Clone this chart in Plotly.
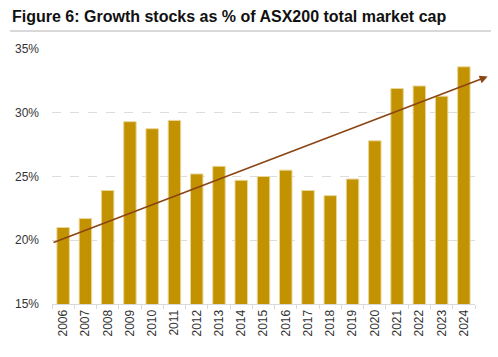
import plotly.graph_objects as go

years = [str(y) for y in range(2006, 2025)]
growth_share = [21.0, 21.7, 23.9, 29.3, 28.75, 29.4, 25.2, 25.8, 24.7, 25.0,
                25.5, 23.9, 23.5, 24.8, 27.8, 31.9, 32.1, 31.3, 33.6]
trend_start = (-0.5, 19.77)
trend_end = (19.07, 32.84)
y_ticks = [15, 20, 25, 30, 35]
y_tick_labels = ["15%", "20%", "25%", "30%", "35%"]

fig = go.Figure()
fig.add_trace(go.Bar(
    x=years, y=growth_share,
    marker=dict(color="#C29200", line=dict(color="#E9D79A", width=1)),
    width=0.56,
))

fig.add_annotation(
    x=trend_end[0], y=trend_end[1], ax=trend_start[0], ay=trend_start[1],
    xref="x", yref="y", axref="x", ayref="y",
    showarrow=True, arrowhead=2, arrowsize=1, arrowwidth=1.6,
    arrowcolor="#8B4513", text="",
)

fig.update_layout(
    width=498, height=357,
    margin=dict(l=52, r=23, t=49, b=53, autoexpand=False),
    paper_bgcolor="white", plot_bgcolor="white",
    showlegend=False,
    title=dict(
        text="<b>Figure 6: Growth stocks as % of ASX200 total market cap</b>",
        x=12/498, xref="container", xanchor="left",
        y=1 - 16/357, yref="container", yanchor="middle",
        font=dict(family="Liberation Sans, Arial, sans-serif", size=16, color="#111111"),
    ),
    shapes=[dict(type="line", xref="paper", yref="paper",
                 x0=(10-52)/423, x1=(491-52)/423,
                 y0=1 + (49-31)/255, y1=1 + (49-31)/255,
                 line=dict(color="#D9D9D9", width=2))],
    bargap=0.44,
)
fig.update_xaxes(
    type="category", tickson="boundaries", ticks="outside", ticklen=4,
    tickcolor="#D9D9D9", showline=True, linecolor="#D9D9D9", linewidth=1,
    tickangle=-90, showgrid=False, automargin=False,
    tickfont=dict(family="Liberation Sans, Arial, sans-serif", size=12, color="#333333"),
    range=[-0.5, 18.5],
)
fig.update_yaxes(
    range=[15, 35], tickvals=y_ticks, ticktext=y_tick_labels,
    showgrid=True, gridcolor="#DDDDDD", griddash="dash", gridwidth=1,
    zeroline=False, showline=False, ticks="", ticklabelstandoff=12, automargin=False,
    tickfont=dict(family="Liberation Sans, Arial, sans-serif", size=12, color="#333333"),
)

fig.write_html("out.html", config={"displayModeBar": False},
               post_script="document.body.style.margin='0';")
